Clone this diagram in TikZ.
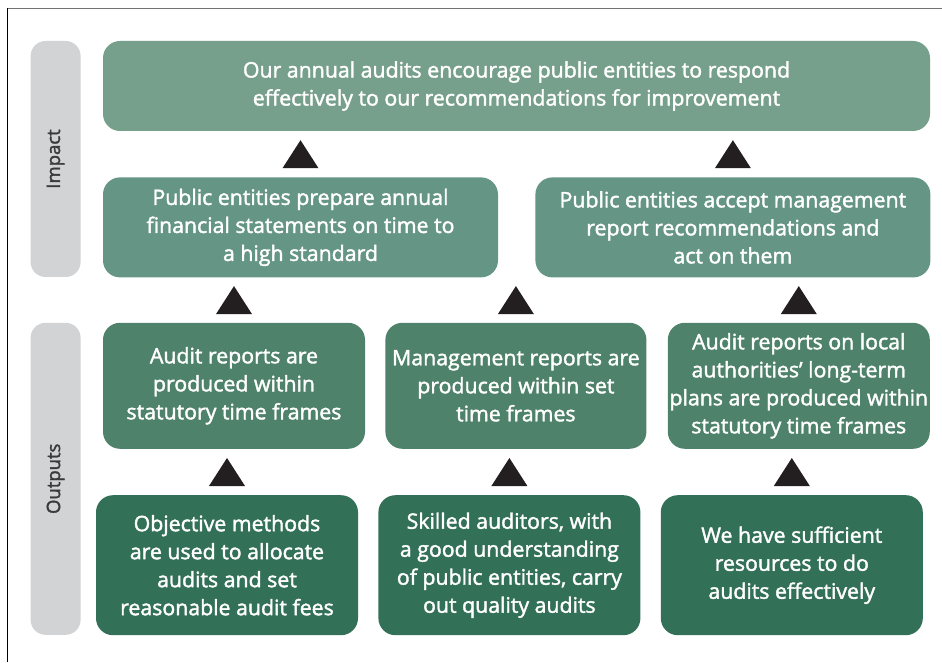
\documentclass[tikz,border=0pt]{standalone}
\usepackage{fontspec}
\setmainfont{Open Sans}[FakeBold=1.8]
\usetikzlibrary{positioning}
\usetikzlibrary{calc}

\definecolor{barGray}{HTML}{D1D3D4}
\definecolor{labelGray}{HTML}{3A3A3C}
\definecolor{goalGreen}{HTML}{77A08C}
\definecolor{impGreen}{HTML}{659584}
\definecolor{outGreen}{HTML}{4E826A}
\definecolor{resGreen}{HTML}{337058}
\definecolor{triBlack}{HTML}{231F20}

\begin{document}
\begin{tikzpicture}[
    x=1pt,y=1pt,
    node distance=46pt,
    box/.style={rectangle,rounded corners=17pt,align=center,text=white,inner sep=0pt,
        font=\fontsize{21.3}{28}\selectfont},
    goalbox/.style={box,fill=goalGreen,minimum width=827pt,minimum height=90pt},
    impbox/.style={box,fill=impGreen,minimum width=395pt,minimum height=100pt},
    outbox/.style={box,fill=outGreen,minimum width=262pt,minimum height=126pt},
    resbox/.style={box,fill=resGreen,minimum width=262pt,minimum height=140pt},
    band/.style={rectangle,rounded corners=15pt,fill=barGray,minimum width=50pt,inner sep=0pt},
    bandlabel/.style={rotate=90,text=labelGray,font=\fontsize{18.5}{22}\selectfont},
    tri/.style={fill=triBlack}
    ]
    \useasboundingbox (0,0) rectangle (942,662);
    \draw[black!55,line width=1pt] (7,653.5) -- (942,653.5);
    \draw[black,line width=1pt] (7.5,654) -- (7.5,0);

    \node (goal) [goalbox] at (516.5,576) {Our annual audits encourage public entities to respond\\effectively to our recommendations for improvement};
    \node (prep) [impbox,below right=46pt and 0pt of goal.south west] {Public entities prepare annual\\financial statements on time to\\a high standard};
    \node (accept) [impbox,right=37pt of prep] {Public entities accept management\\report recommendations and\\act on them};

    \node (rep1) [outbox,below right=45pt and 0pt of prep.south west] {Audit reports are\\produced within\\statutory time frames};
    \node (rep2) [outbox,minimum width=261pt,right=20pt of rep1] {Management reports are\\produced within set\\time frames};
    \node (rep3) [outbox,right=21pt of rep2] {Audit reports on local\\authorities’ long-term\\plans are produced within\\statutory time frames};

    \node (res1) [resbox,below=46pt of rep1,xshift=-7pt] {Objective methods\\are used to allocate\\audits and set\\reasonable audit fees};
    \node (res2) [resbox,right=20pt of res1] {Skilled auditors, with\\a good understanding\\of public entities, carry\\out quality audits};
    \node (res3) [resbox,right=20pt of res2] {We have sufficient\\resources to do\\audits effectively};

    % side bands
    \node (impband) [band,minimum height=236pt,below left=0pt and 22pt of goal.north west] {};
    \node (outband) [band,minimum height=312pt,below left=0pt and 22pt of rep1.north west] {};
    \node (implabel) [bandlabel] at (impband.center) {Impact};
    \node (outlabel) [bandlabel] at (outband.center) {Outputs};

    % triangles between levels
    \foreach \lo/\hi in {prep/goal,accept/goal,rep1/prep,rep2/prep,rep3/accept,res1/rep1,res2/rep2,res3/rep3}
      \fill[tri] ($(\lo.north)!0.5!(\lo.north |- \hi.south)$) +(-18pt,-14pt) -- +(18pt,-14pt) -- +(0pt,14pt) -- cycle;
  \end{tikzpicture}
\end{document}
